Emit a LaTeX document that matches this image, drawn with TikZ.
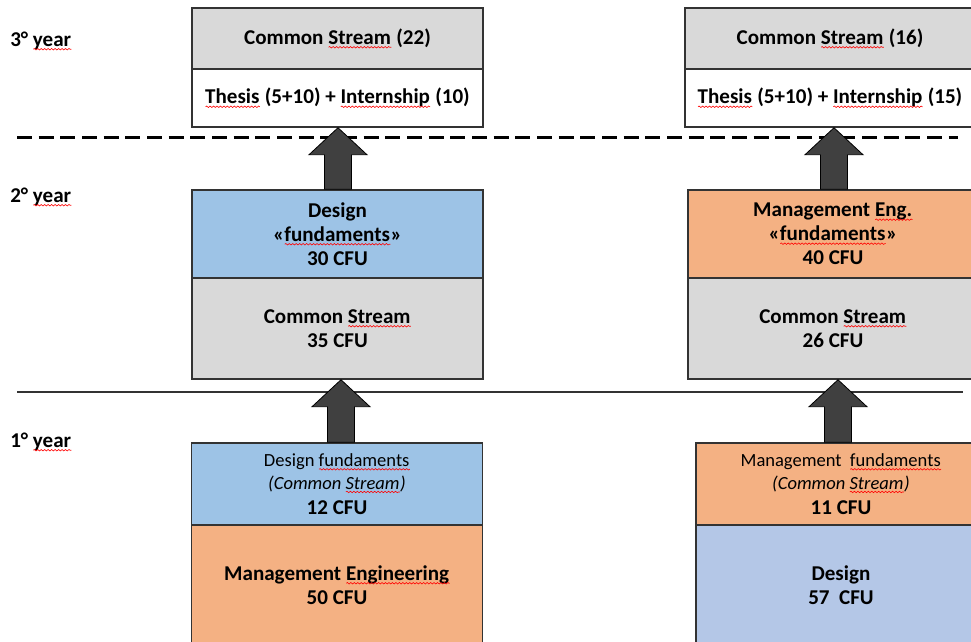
\documentclass[tikz,border=0pt]{standalone}
\usepackage{fontspec}
\setmainfont{Carlito}
\usetikzlibrary{calc,decorations.pathmorphing}
\definecolor{boxgray}{HTML}{D9D9D9}
\definecolor{boxblue}{HTML}{9DC3E6}
\definecolor{boxorange}{HTML}{F4B183}
\definecolor{boxlav}{HTML}{B4C7E7}
\definecolor{edgecol}{HTML}{333333}
\definecolor{arrowcol}{HTML}{404040}
\newdimen\sqw
\newcommand\sq[1]{\setbox0\hbox{#1}\sqw=\wd0\rlap{\box0}%
  \tikz[baseline=0pt,x=1pt,y=1pt]{\draw[draw=red,fill=none,line width=0.45pt,
    decorate,decoration={snake,amplitude=0.55pt,segment length=2.6pt}]
    (0,-2.2) -- (\sqw,-2.2);}}
\newcommand\smallreg{\mdseries\fontsize{13.9}{16}\selectfont}
\tikzset{
  box/.style n args={3}{draw=edgecol, line width=1.1pt, inner sep=0pt,
    minimum width=#1*0.75pt, minimum height=#2*0.75pt, fill=#3,
    align=center, font=\bfseries\fontsize{15.8}{18}\selectfont},
  yearlabel/.style={anchor=west, inner sep=0pt, font=\bfseries\fontsize{15.8}{18}\selectfont},
  blockarrow/.style={fill=arrowcol, draw=black, line width=0.6pt},
  dashline/.style={line width=2.25pt, dash pattern=on 11.25pt off 5pt},
  solidline/.style={line width=1.1pt, draw=edgecol}
}
\begin{document}
\begin{tikzpicture}[x=0.75pt, y=-0.75pt]
\useasboundingbox (0,0) rectangle (971,642);
\clip (0,0) rectangle (971,642);
% year labels
\node[yearlabel] (y3) at (10,41) {3° \sq{year}};
\node[yearlabel] (y2) at (10,197) {2° \sq{year}};
\node[yearlabel] (y1) at (10,442) {1° \sq{year}};
% separators
\coordinate (d1) at (17,137); \coordinate (d2) at (958,137);
\draw[dashline] (d1) -- (d2);
\coordinate (s1) at (17,392); \coordinate (s2) at (963,392);
\draw[solidline] (s1) -- (s2);
% left column
\node[box={291}{120}{boxorange}] (L1b) at (337,585) {Management \sq{Engineering}\\50 CFU};
\node[box={291}{82}{boxblue}] (L1a) at (337,484) {{\smallreg Design \sq{fundaments}}\\[-1pt]{\smallreg\itshape (Common \sq{Stream})}\\[1pt]12 CFU};
\node[box={291}{101}{boxgray}] (L2b) at (337.5,328.5) {Common \sq{Stream}\\35 CFU};
\node[box={291}{88}{boxblue}] (L2a) at (337.5,234) {Design\\«\sq{fundaments}»\\30 CFU};
\node[box={291}{58}{white}] (L3b) at (337.5,98) {\sq{Thesis} (5+10) + \sq{Internship} (10)};
\node[box={291}{61}{boxgray}] (L3a) at (337.5,38.5) {Common \sq{Stream} (22)};
% right column
\node[box={290}{120}{boxlav}] (R1b) at (841,585) {Design\\57~ CFU};
\node[box={290}{82}{boxorange}] (R1a) at (841,484) {{\smallreg Management~ \sq{fundaments}}\\[-1pt]{\smallreg\itshape (Common \sq{Stream})}\\[1pt]11 CFU};
\node[box={290}{101}{boxgray}] (R2b) at (833,328.5) {Common \sq{Stream}\\26 CFU};
\node[box={290}{88}{boxorange}] (R2a) at (833,234) {Management \sq{Eng.}\\«\sq{fundaments}»\\40 CFU};
\node[box={290}{58}{white}] (R3b) at (830,98) {\sq{Thesis} (5+10) + \sq{Internship} (15)};
\node[box={290}{61}{boxgray}] (R3a) at (830,38.5) {Common \sq{Stream} (16)};
% block arrows
\foreach \lo/\hi/\dx in {L2a/L3b/0.5, L1a/L2b/4, R2a/R3b/1, R1a/R2b/-3}{
  \draw[blockarrow] let \p1=($(\hi.south)+(\dx,0)$), \p2=($(\lo.north)+(\dx,0)$) in
    (\x2-10.1pt,\y2) -- (\x2-10.1pt,\y1-20.25pt) -- (\x2-21.75pt,\y1-20.25pt)
    -- (\x2,\y1) -- (\x2+21.75pt,\y1-20.25pt) -- (\x2+10.1pt,\y1-20.25pt)
    -- (\x2+10.1pt,\y2) -- cycle;
}
\end{tikzpicture}
\end{document}
